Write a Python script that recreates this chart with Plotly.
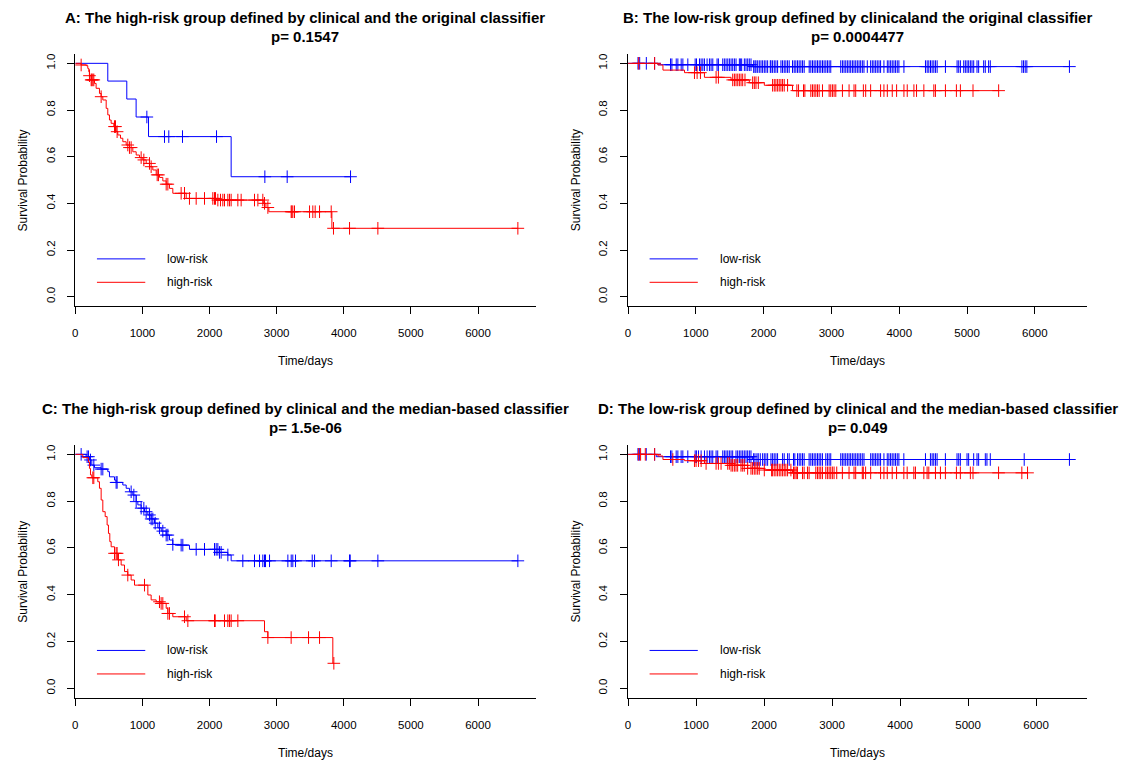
import plotly.graph_objects as go

# ---------------- data ----------------
# Panel A: high-risk group defined by clinical and the original classifier
A_low_event_t = [484, 767, 906, 1091, 2322]
A_low_event_s = [0.924, 0.847, 0.770, 0.686, 0.514]
A_low_cens_t = [1066, 1329, 1393, 1597, 2104, 2824, 3157, 4101]

A_high_event_t = [87, 161, 186, 201, 211, 236, 286, 310, 360, 385, 410, 460, 484, 509, 534,
                  574, 609, 633, 673, 708, 758, 807, 857, 907, 956, 1006, 1056, 1106, 1155,
                  1205, 1255, 1304, 1354, 1403, 1453, 1652, 2100, 2800, 2840, 2884, 3823]
A_high_event_s = [0.993, 0.990, 0.978, 0.964, 0.947, 0.929, 0.914, 0.893, 0.871, 0.857, 0.843,
                  0.807, 0.779, 0.757, 0.743, 0.729, 0.707, 0.693, 0.679, 0.664, 0.650, 0.639,
                  0.621, 0.607, 0.596, 0.586, 0.571, 0.557, 0.543, 0.522, 0.511, 0.496, 0.482,
                  0.464, 0.443, 0.421, 0.414, 0.400, 0.382, 0.364, 0.293]
A_high_cens_t = [87, 211, 236, 246, 261, 276, 385, 584, 599, 623, 782, 807, 832, 981, 1021,
                 1105, 1130, 1220, 1239, 1354, 1379, 1577, 1627, 1701, 1801, 1925, 2049, 2074,
                 2089, 2124, 2163, 2198, 2223, 2273, 2298, 2322, 2422, 2471, 2670, 2720, 2794,
                 2819, 2869, 3216, 3226, 3241, 3266, 3490, 3539, 3574, 3639, 3813, 3847, 4086,
                 4508, 6594]

# Panel B: low-risk group defined by clinical and the original classifier
B_low_event_t = [441, 1838]
B_low_event_s = [0.994, 0.986]
B_low_cens_t = [147, 172, 270, 392, 627, 647, 711, 735, 784, 809, 882, 990, 1010, 1054, 1078,
                1103, 1127, 1166, 1201, 1225, 1250, 1313, 1333, 1397, 1421, 1446, 1471, 1495,
                1520, 1544, 1569, 1593, 1642, 1657, 1676, 1716, 1740, 1765, 1789, 1814, 1853,
                1873, 1887, 1912, 1936, 1961, 1985, 2010, 2034, 2059, 2098, 2108, 2132, 2157,
                2181, 2206, 2255, 2279, 2304, 2328, 2353, 2377, 2426, 2451, 2475, 2500, 2524,
                2549, 2574, 2598, 2672, 2696, 2721, 2745, 2770, 2794, 2819, 2843, 2868, 2892,
                2917, 2941, 2966, 2990, 3137, 3162, 3186, 3211, 3235, 3260, 3284, 3309, 3333,
                3358, 3382, 3407, 3431, 3456, 3480, 3529, 3578, 3603, 3627, 3652, 3676, 3701,
                3725, 3774, 3824, 3848, 3873, 3897, 3922, 3946, 3971, 3995, 4069, 4387, 4412,
                4436, 4461, 4485, 4510, 4534, 4559, 4681, 4853, 4877, 4902, 4951, 4975, 5000,
                5024, 5049, 5073, 5098, 5147, 5171, 5245, 5269, 5318, 5343, 5809, 5833, 5858,
                5882, 6510]

B_high_event_t = [441, 515, 833, 1127, 1520, 1789, 2010, 2426]
B_high_event_s = [0.993, 0.971, 0.960, 0.940, 0.929, 0.917, 0.906, 0.883]
B_high_cens_t = [157, 392, 980, 1019, 1068, 1299, 1333, 1544, 1569, 1593, 1618, 1642, 1667,
                 1691, 1725, 1838, 1863, 1887, 1922, 2132, 2157, 2181, 2206, 2230, 2255, 2279,
                 2304, 2353, 2490, 2515, 2588, 2608, 2696, 2721, 2745, 2770, 2794, 2819, 2868,
                 2966, 2990, 3015, 3039, 3064, 3162, 3260, 3333, 3358, 3471, 3505, 3578, 3725,
                 3774, 3824, 3897, 3961, 4069, 4118, 4216, 4255, 4363, 4510, 4534, 4681, 4843,
                 4902, 5088, 5466]

# Panel C: high-risk group defined by clinical and the median-based classifier
C_low_event_t = [161, 211, 246, 286, 385, 484, 509, 584, 608, 708, 758, 807, 857, 907, 932,
                 981, 1031, 1081, 1130, 1180, 1230, 1280, 1354, 1403, 1453, 1577, 1701, 2148,
                 2273, 2322]
C_low_event_s = [0.990, 0.976, 0.954, 0.943, 0.937, 0.926, 0.904, 0.890, 0.880, 0.869, 0.855,
                 0.840, 0.826, 0.798, 0.784, 0.770, 0.755, 0.741, 0.724, 0.706, 0.686, 0.672,
                 0.655, 0.634, 0.615, 0.612, 0.594, 0.581, 0.570, 0.545]
C_low_cens_t = [87, 176, 196, 226, 276, 385, 410, 608, 623, 832, 872, 907, 981, 1021, 1056,
                1105, 1130, 1155, 1190, 1254, 1304, 1354, 1379, 1453, 1577, 1602, 1801, 1925,
                2074, 2099, 2124, 2148, 2173, 2273, 2496, 2670, 2745, 2794, 2819, 2834, 2894,
                3167, 3217, 3241, 3281, 3530, 3565, 3813, 4086, 4096, 4508, 6594]

C_high_event_t = [112, 196, 211, 226, 246, 335, 360, 385, 410, 445, 474, 494, 514, 534, 584,
                  633, 683, 733, 782, 832, 882, 1081, 1130, 1205, 1279, 1354, 1379, 1453, 1652,
                  2819, 2869, 3837]
C_high_event_s = [0.986, 0.968, 0.940, 0.912, 0.900, 0.883, 0.855, 0.805, 0.755, 0.734, 0.698,
                  0.662, 0.627, 0.605, 0.577, 0.549, 0.527, 0.499, 0.484, 0.463, 0.441, 0.399,
                  0.378, 0.370, 0.363, 0.342, 0.320, 0.306, 0.289, 0.242, 0.217, 0.107]
C_high_cens_t = [261, 276, 584, 608, 623, 643, 782, 1031, 1254, 1279, 1304, 1379, 1403, 1627,
                 1677, 2074, 2084, 2223, 2273, 2298, 2322, 2422, 2869, 3216, 3475, 3639, 3852]

# Panel D: low-risk group defined by clinical and the median-based classifier
D_low_event_t = [415, 1832]
D_low_event_s = [0.990, 0.978]
D_low_cens_t = [146, 171, 268, 391, 625, 645, 708, 733, 781, 806, 879, 987, 1006, 1036, 1075,
                1124, 1163, 1197, 1221, 1246, 1295, 1319, 1393, 1417, 1441, 1466, 1490, 1515,
                1539, 1588, 1612, 1637, 1661, 1686, 1710, 1735, 1759, 1784, 1808, 1847, 1867,
                1896, 1915, 1945, 1979, 2004, 2028, 2053, 2102, 2126, 2150, 2175, 2199, 2273,
                2297, 2346, 2370, 2434, 2453, 2492, 2517, 2541, 2566, 2590, 2663, 2688, 2712,
                2737, 2761, 2786, 2810, 2834, 2859, 2908, 2932, 2957, 2981, 3128, 3152, 3176,
                3201, 3225, 3250, 3274, 3299, 3323, 3348, 3372, 3396, 3421, 3445, 3470, 3568,
                3592, 3616, 3641, 3665, 3690, 3714, 3763, 3812, 3836, 3861, 3885, 3910, 3934,
                3959, 3983, 4056, 4374, 4447, 4472, 4496, 4521, 4545, 4667, 4838, 4863, 4887,
                4985, 5009, 5083, 5132, 5156, 5254, 5278, 5327, 5826, 6491]

D_high_event_t = [440, 513, 831, 1124, 1515, 1759, 2004, 2419]
D_high_event_s = [0.993, 0.978, 0.973, 0.961, 0.953, 0.940, 0.933, 0.921]
D_high_cens_t = [156, 185, 254, 391, 659, 977, 1001, 1036, 1075, 1148, 1295, 1329, 1368, 1466,
                 1490, 1515, 1539, 1564, 1588, 1612, 1661, 1686, 1710, 1759, 1808, 1832, 1857,
                 1881, 1906, 1930, 2004, 2111, 2126, 2150, 2175, 2199, 2224, 2248, 2273, 2297,
                 2321, 2346, 2395, 2434, 2453, 2473, 2492, 2566, 2590, 2639, 2663, 2761, 2786,
                 2810, 2834, 2859, 2908, 2932, 2957, 2981, 3005, 3030, 3069, 3152, 3250, 3323,
                 3348, 3445, 3460, 3494, 3568, 3714, 3763, 3812, 3885, 3949, 4056, 4105, 4203,
                 4227, 4350, 4398, 4423, 4521, 4594, 4667, 4829, 4887, 5034, 5073, 5449, 5791,
                 5875]

titles = [
    "A: The high-risk group defined by clinical and the original classifier",
    "B: The low-risk group defined by clinicaland the original classifier",
    "C: The high-risk group defined by clinical and the median-based classifier",
    "D: The low-risk group defined by clinical and the median-based classifier",
]
pvalues = ["p= 0.1547", "p= 0.0004477", "p= 1.5e-06", "p= 0.049"]
group_names = ["low-risk", "high-risk"]
x_ticks = [0, 1000, 2000, 3000, 4000, 5000, 6000]
y_ticks = [0.0, 0.2, 0.4, 0.6, 0.8, 1.0]
y_ticktext = ["0.0", "0.2", "0.4", "0.6", "0.8", "1.0"]

# ---------------- layout geometry (pixels) ----------------
W, H = 1121, 760
FONT = "Liberation Sans, Arial, Helvetica, sans-serif"
BLUE = "#0000FF"
RED = "#FF0000"
# plot regions: (left, right, top, bottom) in px
regions = [(72.5, 534.0, 54.0, 306.0), (626.7, 1087.0, 54.0, 306.0),
           (72.5, 534.0, 445.0, 697.7), (626.7, 1087.0, 445.0, 697.7)]

panels = [
    (A_low_event_t, A_low_event_s, A_low_cens_t, A_high_event_t, A_high_event_s, A_high_cens_t),
    (B_low_event_t, B_low_event_s, B_low_cens_t, B_high_event_t, B_high_event_s, B_high_cens_t),
    (C_low_event_t, C_low_event_s, C_low_cens_t, C_high_event_t, C_high_event_s, C_high_cens_t),
    (D_low_event_t, D_low_event_s, D_low_cens_t, D_high_event_t, D_high_event_s, D_high_cens_t),
]


def px_x(p):
    return p / W


def px_y(p):
    return 1 - p / H


def surv_at(ev_t, ev_s, t):
    s = 1.0
    for et, es in zip(ev_t, ev_s):
        if et <= t:
            s = es
    return s


fig = go.Figure()
annotations = []
shapes = []

for i, (pan, reg) in enumerate(zip(panels, regions)):
    n = i + 1
    xa = "x" if n == 1 else f"x{n}"
    ya = "y" if n == 1 else f"y{n}"
    left, right, top, bottom = reg
    groups = [(pan[0], pan[1], pan[2], BLUE), (pan[3], pan[4], pan[5], RED)]
    tmax = max(max(g[0] + g[2]) for g in groups)
    for ev_t, ev_s, cens_t, col in groups:
        end = max(ev_t + cens_t)
        xs = [0] + list(ev_t) + [end]
        ys = [1.0] + list(ev_s) + [ev_s[-1]]
        fig.add_trace(go.Scatter(x=xs, y=ys, mode="lines", line=dict(color=col, width=1, shape="hv"),
                                 xaxis=xa, yaxis=ya, showlegend=False, hoverinfo="skip"))
        cy = [surv_at(ev_t, ev_s, t) for t in cens_t]
        fig.add_trace(go.Scatter(x=cens_t, y=cy, mode="markers",
                                 marker=dict(symbol="cross-thin-open", size=9, color=col,
                                             line=dict(width=1, color=col)),
                                 xaxis=xa, yaxis=ya, showlegend=False, hoverinfo="skip"))

    axis_common = dict(showline=True, linecolor="#000", linewidth=1, mirror=False,
                       ticks="outside", ticklen=7, tickwidth=1, tickcolor="#000",
                       showgrid=False, zeroline=False, fixedrange=True,
                       tickfont=dict(family=FONT, size=11.5, color="#000"))
    fig.layout[("xaxis" if n == 1 else f"xaxis{n}")] = dict(
        domain=[px_x(left), px_x(right)], anchor=ya, range=[0, tmax * 1.04],
        tickvals=x_ticks, ticklabelstandoff=9, **axis_common)
    fig.layout[("yaxis" if n == 1 else f"yaxis{n}")] = dict(
        domain=[px_y(bottom), px_y(top)], anchor=xa, range=[-0.04, 1.04],
        tickvals=y_ticks, ticktext=y_ticktext, tickangle=-90, ticklabelstandoff=8,
        **axis_common)

    cx = (left + right) / 2
    # title lines
    annotations.append(dict(text="<b>" + titles[i] + "</b>", x=px_x(cx), y=px_y(top - 37),
                            xref="paper", yref="paper", showarrow=False, xanchor="center",
                            yanchor="middle", font=dict(family=FONT, size=15, color="#000")))
    annotations.append(dict(text="<b>" + pvalues[i] + "</b>", x=px_x(cx), y=px_y(top - 18),
                            xref="paper", yref="paper", showarrow=False, xanchor="center",
                            yanchor="middle", font=dict(family=FONT, size=15, color="#000")))
    # axis titles
    annotations.append(dict(text="Time/days", x=px_x(cx), y=px_y(bottom + 55),
                            xref="paper", yref="paper", showarrow=False, xanchor="center",
                            yanchor="middle", font=dict(family=FONT, size=12, color="#000")))
    annotations.append(dict(text="Survival Probability", x=px_x(left - 52),
                            y=px_y((top + bottom) / 2), textangle=-90,
                            xref="paper", yref="paper", showarrow=False, xanchor="center",
                            yanchor="middle", font=dict(family=FONT, size=12, color="#000")))
    # legend
    for name, col, fy in zip(group_names, [BLUE, RED], [0.187, 0.094]):
        shapes.append(dict(type="line", xref=f"{xa} domain", yref=f"{ya} domain",
                           x0=0.047, x1=0.152, y0=fy, y1=fy, line=dict(color=col, width=1)))
        annotations.append(dict(text=name, xref=f"{xa} domain", yref=f"{ya} domain",
                                x=0.195, y=fy, xanchor="left", yanchor="middle", showarrow=False,
                                font=dict(family=FONT, size=12, color="#000")))

fig.update_layout(width=W, height=H, margin=dict(l=0, r=0, t=0, b=0),
                  paper_bgcolor="white", plot_bgcolor="white",
                  annotations=annotations, shapes=shapes, showlegend=False)

fig.write_html("out.html", config={"displayModeBar": False},
               post_script="document.body.style.margin='0';document.body.style.overflow='hidden';")
